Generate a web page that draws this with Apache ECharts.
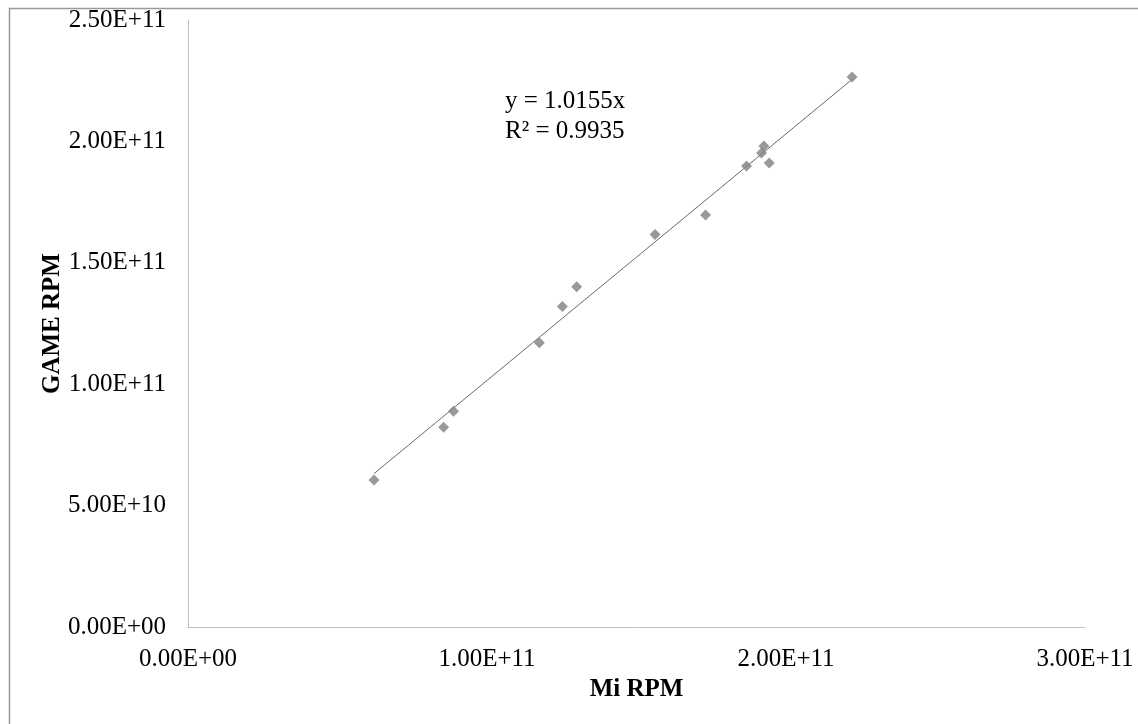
<!DOCTYPE html>
<html>
<head>
<meta charset="utf-8">
<script src="https://cdn.jsdelivr.net/npm/echarts@6/dist/echarts.min.js"></script>
<style>
html,body{margin:0;padding:0;background:#fff;}
#c{width:1138px;height:724px;}
</style>
</head>
<body>
<div id="c"></div>
<script>
// Data
var miRPM   = [0.622e11, 0.855e11, 0.888e11, 1.175e11, 1.252e11, 1.300e11, 1.562e11, 1.731e11, 1.868e11, 1.918e11, 1.926e11, 1.944e11, 2.221e11];
var gameRPM = [0.605e11, 0.823e11, 0.889e11, 1.171e11, 1.320e11, 1.401e11, 1.617e11, 1.697e11, 1.899e11, 1.952e11, 1.981e11, 1.911e11, 2.265e11];
var trendSlope = 1.0155;
var trendLabel = ["y = 1.0155x", "R² = 0.9935"];
var xTicks = {min: 0, max: 3e11, interval: 1e11};
var yTicks = {min: 0, max: 2.5e11, interval: 5e10};
var xTitle = "Mi RPM";
var yTitle = "GAME RPM";

function fmtExp(v) {
  var s = Number(v).toExponential(2).toUpperCase(); // e.g. 1.00E+11, 0.00E+0
  var m = s.match(/^(-?[\d.]+)E([+-])(\d+)$/);
  if (!m) return s;
  var e = m[3].length < 2 ? "0" + m[3] : m[3];
  return m[1] + "E" + m[2] + e;
}

var pts = miRPM.map(function (x, i) { return [x, gameRPM[i]]; });
var xmin = Math.min.apply(null, miRPM), xmax = Math.max.apply(null, miRPM);
var trend = [[xmin, trendSlope * xmin], [xmax, trendSlope * xmax]];

var FONT = '"Liberation Serif", "Times New Roman", serif';
var chart = echarts.init(document.getElementById('c'), null, {renderer: 'canvas'});
chart.setOption({
  backgroundColor: '#ffffff',
  animation: false,
  grid: {left: 188, right: 53, top: 20, bottom: 97, containLabel: false},
  xAxis: {
    type: 'value', min: xTicks.min, max: xTicks.max, interval: xTicks.interval,
    name: xTitle, nameLocation: 'middle', nameGap: 50, nameMoveOverlap: false,
    nameTextStyle: {fontFamily: FONT, fontSize: 25, fontWeight: 'bold', color: '#000'},
    axisLine: {show: true, lineStyle: {color: '#bfbfbf', width: 1}},
    axisTick: {show: false},
    splitLine: {show: false},
    axisLabel: {formatter: fmtExp, fontFamily: FONT, fontSize: 25, color: '#000', margin: 20}
  },
  yAxis: {
    type: 'value', min: yTicks.min, max: yTicks.max, interval: yTicks.interval,
    name: yTitle, nameLocation: 'middle', nameGap: 123, nameRotate: 90, nameMoveOverlap: false,
    nameTextStyle: {fontFamily: FONT, fontSize: 25, fontWeight: 'bold', color: '#000'},
    axisLine: {show: true, lineStyle: {color: '#bfbfbf', width: 1}},
    axisTick: {show: false},
    splitLine: {show: false},
    axisLabel: {formatter: fmtExp, fontFamily: FONT, fontSize: 25, color: '#000', margin: 22}
  },
  series: [
    {
      type: 'line', data: trend, symbol: 'none', silent: true,
      lineStyle: {color: '#6a6a6a', width: 1}, z: 2
    },
    {
      type: 'scatter', data: pts, symbol: 'diamond', symbolSize: 11,
      itemStyle: {color: '#7f7f7f'}, z: 3
    }
  ],
  graphic: [
    {type: 'rect', left: 7, top: 6, shape: {width: 1150, height: 740},
     style: {fill: 'none', stroke: '#999999', lineWidth: 1.5}, silent: true},
    {type: 'text', left: 505, top: 86,
     style: {text: trendLabel.join('\n'), font: '25px ' + FONT, fill: '#000', lineHeight: 30}}
  ]
});
</script>
</body>
</html>
